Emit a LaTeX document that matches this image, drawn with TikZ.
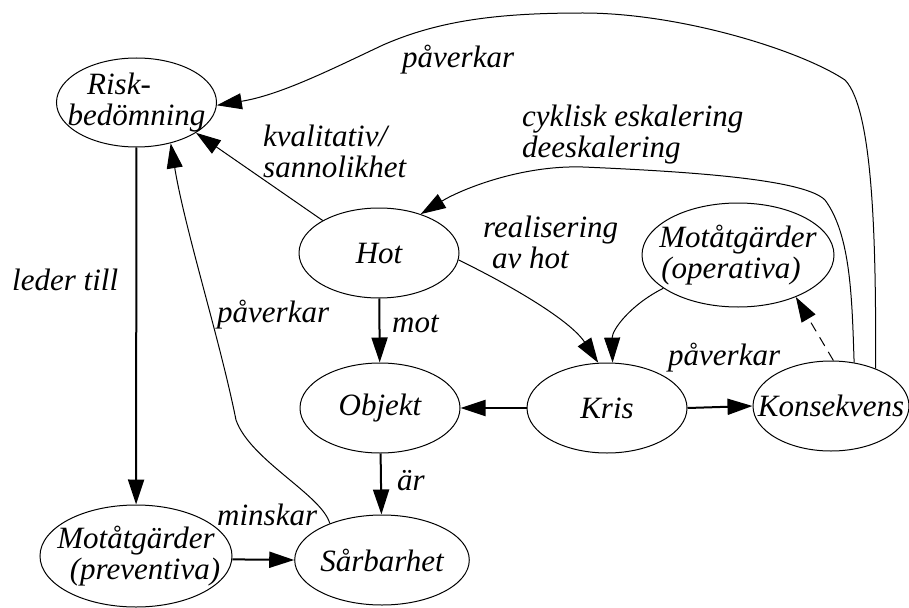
\documentclass[tikz,border=0pt]{standalone}
\usepackage{fontspec}
\setmainfont{Liberation Serif}[ItalicFont={Liberation Serif Italic}]
\usetikzlibrary{arrows.meta,shapes.geometric}
\begin{document}
\begin{tikzpicture}[x=1pt,y=-1pt,
  txt/.style={font=\rmfamily\itshape\fontsize{31}{31}\selectfont},
  ell/.style={ellipse,draw,line width=1pt,inner sep=0pt,txt,align=center},
  lbl/.style={anchor=base west,inner sep=0pt,txt,align=left},
  tip/.style={-{Triangle[length=25pt,width=16pt]}},
  thk/.style={tip,line width=2pt},
  thn/.style={tip,line width=1pt}]
\useasboundingbox (0,0) rectangle (909,607);
% nodes
\node[ell,minimum width=160pt,minimum height=89pt] (risk) at (136.5,102.5)
  {\makebox[0pt]{Risk-\hspace*{35pt}}\\\makebox[0pt]{bedömning}};
\node[ell,minimum width=160pt,minimum height=90pt] (hot) at (379,253) {Hot};
\node[ell,minimum width=192pt,minimum height=104pt] (op) at (738,255)
  {\makebox[0pt]{Motåtgärder}\\\makebox[0pt]{(operativa)\hspace*{14pt}}};
\node[ell,minimum width=160pt,minimum height=90pt] (obj) at (380,408) {Objekt};
\node[ell,minimum width=160pt,minimum height=90pt] (kris) at (607,408) {Kris};
\node[ell,minimum width=156pt,minimum height=90pt] (kons) at (831,406) {\makebox[0pt]{Konsekvens}};
\node[ell,minimum width=192pt,minimum height=102pt] (prev) at (136,556)
  {\makebox[0pt]{Motåtgärder}\\\makebox[0pt]{\hspace*{18pt}(preventiva)}};
\node[ell,minimum width=160pt,minimum height=90pt] (sarb) at (382,560) {Sårbarhet};
% thick edges
\draw[thk] (risk) -- (prev);
\draw[thk] (prev.-2) -- (sarb.west);
\draw[thk] (hot) -- (obj);
\draw[thk] (obj) -- (sarb);
\draw[thk] (kris) -- (obj);
\draw[thk] (kris.east) -- (kons.west);
% thin edges
\draw[thn] (hot.150) -- (risk.-27);
\draw[thn] (sarb.145) .. controls (322,495) and (250,460) .. (236,420)
  .. controls (220,340) and (185,230) .. (risk.-50);
\draw[thn] (hot.-5) .. controls (510,285) and (570,320) .. (kris.101);
\draw[thn] (op.204) .. controls (630,305) and (612,330) .. (kris.83);
\draw[thn,dash pattern=on 10pt off 7pt] (kons.87) -- (op.-36);
\draw[thn] (kons.62) .. controls (852,300) and (851,235) .. (825,200)
  .. controls (805,180) and (700,172) .. (583,167)
  .. controls (520,165) and (460,190) .. (hot.43);
\draw[thn] (kons.40) .. controls (876,250) and (874,110) .. (845,80)
  .. controls (800,50) and (680,13) .. (583,13)
  .. controls (500,13) and (440,20) .. (383,45)
  .. controls (330,70) and (280,95) .. (risk.-2);
% labels
\node[lbl] (l1) at (402,68) {påverkar};
\node[lbl] (l2) at (263,177) {kvalitativ/\\sannolikhet};
\node[lbl] (l3) at (522,157) {cyklisk eskalering\\deeskalering};
\node[lbl] (l4) at (483,268) {realisering\\\hspace*{9pt}av hot};
\node[lbl] (l5) at (12,290) {leder till};
\node[lbl] (l6) at (217,322) {påverkar};
\node[lbl] (l7) at (392,332) {mot};
\node[lbl] (l8) at (397,490) {är};
\node[lbl] (l9) at (217,525) {minskar};
\node[lbl] (l10) at (668,365) {påverkar};
\end{tikzpicture}
\end{document}
